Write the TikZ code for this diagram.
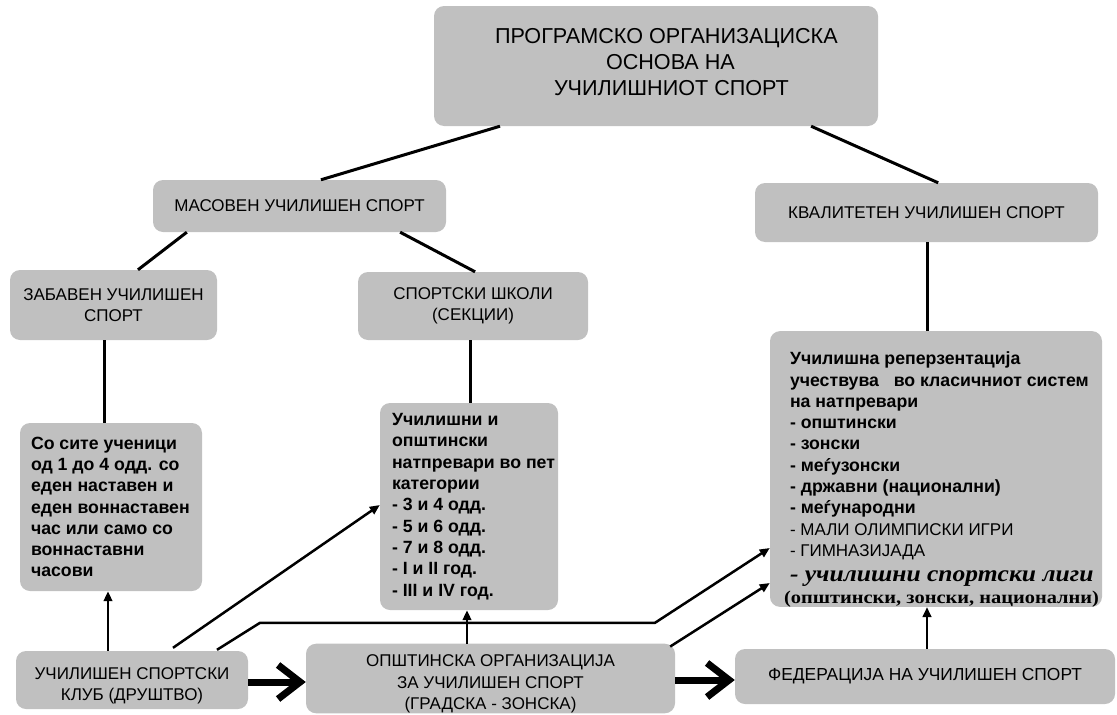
\documentclass[tikz,border=0pt]{standalone}
\usepackage{fontspec}
\usepackage{graphicx}
\setmainfont{Liberation Sans}
\newfontfamily\serifcyr{Liberation Serif}
\usetikzlibrary{arrows.meta,calc}
\definecolor{boxgray}{HTML}{C0C0C0}
\newcommand{\lbox}[3]{\begin{minipage}{#1}\leftskip=#2\relax\rightskip=-100pt plus 1fil\relax\parindent=0pt #3\end{minipage}}
\newcommand{\posline}[2]{\makebox[444pt][l]{\hspace*{#1}#2}}
\begin{document}
\begin{tikzpicture}[x=1pt,y=-1pt,
  box/.style={fill=boxgray, rounded corners=10pt, inner sep=0pt, align=center, font=\fontsize{17}{21.5}\selectfont},
  body/.style={font=\fontsize{17.7}{21.3}\selectfont\bfseries},
  conn/.style={line width=3pt},
  arr/.style={line width=2.5pt,-{Triangle[length=10pt,width=8.5pt]}},
  bigarr/.style={line width=7pt,-{Straight Barb[length=22pt,width=34pt]}}]
\path[use as bounding box] (0,0) rectangle (1117,715);

\node[box, align=left, minimum width=444pt, minimum height=120pt, font=\fontsize{21.6}{26}\selectfont] (top) at (656,66)
 {\posline{61pt}{ПРОГРАМСКО ОРГАНИЗАЦИСКА}\\
  \posline{172pt}{ОСНОВА НА}\\
  \posline{120pt}{УЧИЛИШНИОТ СПОРТ}\rule[-8pt]{0pt}{8pt}};

\node[box, minimum width=293pt, minimum height=52pt] (mas) at (299.5,206) {МАСОВЕН УЧИЛИШЕН СПОРТ};
\node[box, minimum width=343pt, minimum height=59pt] (kval) at (926.5,212.5) {КВАЛИТЕТЕН УЧИЛИШЕН СПОРТ};
\node[box, minimum width=207pt, minimum height=70pt] (zab) at (113.5,305) {ЗАБАВЕН УЧИЛИШЕН\\СПОРТ};
\node[box, minimum width=230pt, minimum height=68pt] (skoli) at (473,306) {СПОРТСКИ ШКОЛИ\\(СЕКЦИИ)};

\node[box, body, minimum width=182pt, minimum height=168pt] (sosite) at (111,507)
 {\lbox{182pt}{11pt}{Со сите ученици\\од 1 до 4 одд. со\\еден наставен и\\еден воннаставен\\час или само со\\воннаставни\\часови}};

\node[box, body, minimum width=178pt, minimum height=207pt] (uchil) at (469,506.5)
 {\lbox{178pt}{12pt}{Училишни и\\општински\\натпревари во пет\\категории\\- 3 и 4 одд.\\- 5 и 6 одд.\\- 7 и 8 одд.\\- I и II год.\\- III и IV год.}};

\node[box, body, minimum width=332pt, minimum height=272pt] (big) at (936,469)
 {\lbox{332pt}{20pt}{\rule{0pt}{33.6pt}Училишна реперзентација\\
 учествува\ \ \ во класичниот систем\\
 на натпревари\\
 - општински\\
 - зонски\\
 - меѓузонски\\
 - државни (национални)\\
 - меѓународни\\
 {\mdseries\fontsize{17}{21.3}\selectfont - МАЛИ ОЛИМПИСКИ ИГРИ}\\
 {\mdseries\fontsize{17}{21.3}\selectfont - ГИМНАЗИЈАДА}\\[4pt]
 \scalebox{1.11}[1]{\serifcyr\itshape\fontsize{23}{25}\selectfont - училишни спортски лиги}\\
 \hspace*{-6pt}\scalebox{1.135}[1]{\serifcyr\fontsize{18}{21}\selectfont (општински, зонски, национални)}}};

\node[box, minimum width=232pt, minimum height=58pt] (club) at (132,680) {\rule{0pt}{24pt}УЧИЛИШЕН СПОРТСКИ\\КЛУБ (ДРУШТВО)};
\node[box, minimum width=369pt, minimum height=69pt] (opst) at (490.5,678.5) {\rule{0pt}{23pt}ОПШТИНСКА ОРГАНИЗАЦИЈА\\ЗА УЧИЛИШЕН СПОРТ\\(ГРАДСКА - ЗОНСКА)};
\node[box, minimum width=380pt, minimum height=55pt, font=\fontsize{17.4}{21}\selectfont] (fed) at (925,676.5) {ФЕДЕРАЦИЈА НА УЧИЛИШЕН СПОРТ};

\draw[conn] ($(top.south west)!0.149!(top.south east)$) -- ($(mas.north west)!0.573!(mas.north east)$);
\draw[conn] ($(top.south west)!0.849!(top.south east)$) -- ($(kval.north west)!0.534!(kval.north east)$);
\draw[conn] ($(mas.south west)!0.116!(mas.south east)$) -- ($(zab.north west)!0.618!(zab.north east)$);
\draw[conn] ($(mas.south west)!0.843!(mas.south east)$) -- ($(skoli.north west)!0.509!(skoli.north east)$);
\draw[conn] ([xshift=-9.5pt]zab.south) -- ([xshift=-7pt]sosite.north);
\draw[conn] ([xshift=-3pt]skoli.south) -- ([xshift=1pt]uchil.north);
\draw[conn] ([xshift=0.5pt]kval.south) -- ([xshift=-9pt]big.north);

\draw[arr] ([xshift=-24pt]club.north) -- ([xshift=-3pt]sosite.south);
\draw[arr] ([xshift=41pt,yshift=3pt]club.north) -- ([yshift=1.5pt]uchil.west);
\draw[arr] ([xshift=85pt,yshift=1pt]club.north) -- ++(43,-27) -- ++(395,0) -- ([yshift=-79pt]big.west);
\draw[arr] ([xshift=-5pt,yshift=-3pt]opst.north east) -- ([yshift=-114pt]big.west);
\draw[arr] ([xshift=-23.5pt]opst.north) -- ([xshift=-2pt]uchil.south);
\draw[arr] ([xshift=2pt]fed.north) -- ([xshift=-9pt]big.south);

\draw[bigarr] ([yshift=-2pt]club.east) -- ([yshift=-2pt]club.east -| opst.west);
\draw[bigarr] ([yshift=-1.5pt]opst.east) -- ([yshift=-1.5pt]opst.east -| fed.west);
\end{tikzpicture}
\end{document}
